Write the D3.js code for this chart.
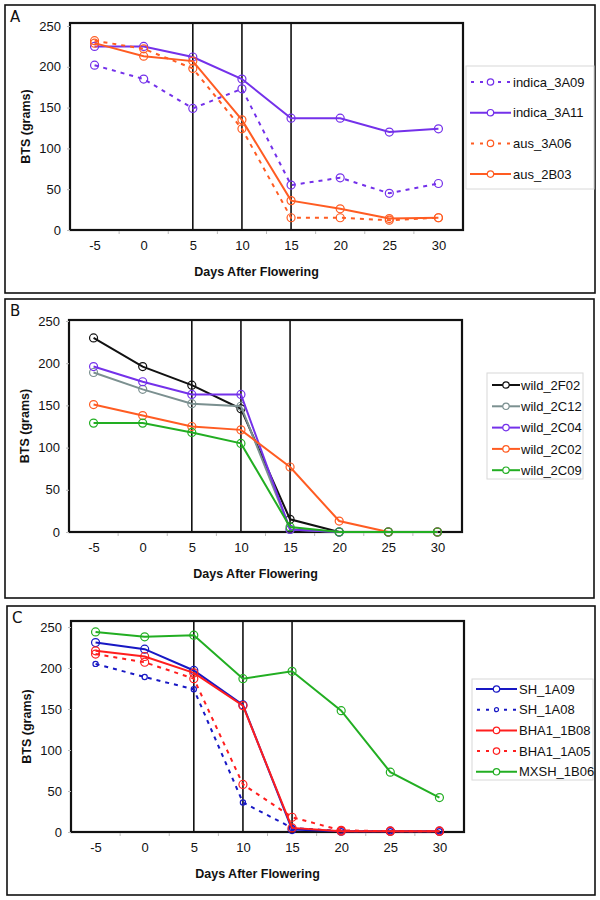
<!DOCTYPE html>
<html><head><meta charset="utf-8">
<script src="https://cdn.jsdelivr.net/npm/d3@7/dist/d3.min.js"></script>
<style>body{margin:0;background:#fff}svg{display:block}</style>
</head><body>
<svg id="chart" width="600" height="900"></svg>
<script>
const days = ["-5","0","5","10","15","20","25","30"];
const yTicks = [0,50,100,150,200,250];
const markerDays = ["5","10","15"];

// Panel A
const namesA = ["indica_3A09","indica_3A11","aus_3A06","aus_2B03"];
const indica_3A09 = [202,185,149,173,55,64,45,57];
const indica_3A11 = [225,225,212,185,137,137,120,124];
const aus_3A06 = [232,222,198,124,15,15,12,15];
const aus_2B03 = [229,213,207,135,36,26,14,15];

// Panel B
const namesB = ["wild_2F02","wild_2C12","wild_2C04","wild_2C02","wild_2C09"];
const wild_2F02 = [230,196,174,146,15,0,0,0];
const wild_2C12 = [189,169,152,149,3,0,0,0];
const wild_2C04 = [196,178,163,163,3,0,0,0];
const wild_2C02 = [151,138,125,121,77,13,0,0];
const wild_2C09 = [129,129,118,105,6,0,0,0];

// Panel C
const namesC = ["SH_1A09","SH_1A08","BHA1_1B08","BHA1_1A05","MXSH_1B06"];
const SH_1A09 = [231,223,197,155,3,1,1,1];
const SH_1A08 = [205,189,174,36,5,1,1,1];
const BHA1_1B08 = [221,214,194,154,5,1,1,1];
const BHA1_1A05 = [217,207,187,58,18,2,1,1];
const MXSH_1B06 = [244,238,240,187,196,148,73,42];

const svg = d3.select("#chart");

function panel(cfg){
  const g = svg.append("g");
  g.append("rect").attr("x",cfg.box[0]).attr("y",cfg.box[1])
    .attr("width",cfg.box[2]-cfg.box[0]).attr("height",cfg.box[3]-cfg.box[1])
    .attr("fill","none").attr("stroke","#111").attr("stroke-width",1.6);
  g.append("text").attr("x",cfg.box[0]+5).attr("y",cfg.box[1]+17)
    .attr("font-family","DejaVu Sans, sans-serif").attr("font-size",15)
    .attr("fill","#111").text(cfg.letter);

  const x = d3.scalePoint().domain(days).range([cfg.left,cfg.right]).padding(0.5);
  const xb = d3.scaleBand().domain(days).range([cfg.left,cfg.right]);
  const y = d3.scaleLinear().domain([0,250]).range([cfg.y0,cfg.y250]);

  g.append("rect").attr("x",cfg.left).attr("y",cfg.top)
    .attr("width",cfg.right-cfg.left).attr("height",cfg.y0-cfg.top)
    .attr("fill","#fff").attr("stroke","#111").attr("stroke-width",2.2);

  const ya = g.append("g").attr("transform",`translate(${cfg.left},0)`)
    .call(d3.axisLeft(y).tickValues(yTicks).tickSize(3).tickPadding(6));
  ya.select(".domain").remove();
  ya.selectAll("line").attr("stroke","#bbb");
  ya.selectAll("text").attr("font-family","Liberation Sans, Arial, sans-serif")
    .attr("font-size",13).attr("fill","#111");

  const xa = g.append("g").attr("transform",`translate(0,${cfg.y0})`)
    .call(d3.axisBottom(x).tickSize(0).tickPadding(11));
  xa.select(".domain").remove();
  xa.selectAll("text").attr("font-family","Liberation Sans, Arial, sans-serif")
    .attr("font-size",13).attr("fill","#111");
  g.append("g").selectAll("line").data(days.slice(1)).join("line")
    .attr("x1",d=>xb(d)).attr("x2",d=>xb(d))
    .attr("y1",cfg.y0+1).attr("y2",cfg.y0+4).attr("stroke","#bbb");

  g.append("text").attr("x",(cfg.left+cfg.right)/2 - 10).attr("y",cfg.y0+46)
    .attr("text-anchor","middle").attr("font-family","Liberation Sans, Arial, sans-serif")
    .attr("font-weight","bold").attr("font-size",12.5).attr("fill","#111")
    .text("Days After Flowering");
  g.append("text").attr("transform",`translate(${cfg.left-40},${(cfg.y0+cfg.top)/2}) rotate(-90)`)
    .attr("text-anchor","middle").attr("font-family","Liberation Sans, Arial, sans-serif")
    .attr("font-weight","bold").attr("font-size",12.5).attr("fill","#111")
    .text("BTS (grams)");

  g.append("g").selectAll("line").data(markerDays).join("line")
    .attr("x1",d=>x(d)).attr("x2",d=>x(d)).attr("y1",cfg.top).attr("y2",cfg.y0)
    .attr("stroke","#111").attr("stroke-width",1.6);

  const line = d3.line().x((v,i)=>x(days[i])).y(v=>y(v));
  cfg.series.forEach(s=>{
    const sg = g.append("g");
    sg.append("path").attr("d",line(s.values)).attr("fill","none")
      .attr("stroke",s.color).attr("stroke-width",2)
      .attr("stroke-dasharray",s.dash?"4,5":null);
    sg.selectAll("circle").data(s.values).join("circle")
      .attr("cx",(v,i)=>x(days[i])).attr("cy",v=>y(v)).attr("r",s.r||4)
      .attr("fill","none").attr("stroke",s.color).attr("stroke-width",1.2);
  });

  const L = cfg.legend;
  g.append("rect").attr("x",L.x0).attr("y",L.y0).attr("width",L.x1-L.x0).attr("height",L.y1-L.y0)
    .attr("fill","#fff").attr("stroke","#d8d8d8").attr("stroke-width",1);
  const li = g.append("g").selectAll("g").data(cfg.series).join("g")
    .attr("transform",(s,i)=>`translate(0,${L.first+i*L.step})`);
  li.append("line").attr("x1",L.lx0).attr("x2",L.lx1).attr("y1",0).attr("y2",0)
    .attr("stroke",s=>s.color).attr("stroke-width",2)
    .attr("stroke-dasharray",s=>s.dash?"3,6":null)
    .attr("stroke-dashoffset",s=>s.dash?-1:null);
  li.append("circle").attr("cx",(L.lx0+L.lx1)/2).attr("cy",0).attr("r",s=>s.r?2:3.2)
    .attr("fill","#fff").attr("stroke",s=>s.color).attr("stroke-width",1.2);
  li.append("text").attr("x",L.tx).attr("y",0).attr("dy","0.36em")
    .attr("font-family","Liberation Sans, Arial, sans-serif").attr("font-size",13)
    .attr("fill","#111").text(s=>s.name);
}

const purple="#7431EA", orange="#FF5C22", gray="#7B9090", green="#22AE22",
      blue="#1818C4", red="#FF1E1E", black="#111";

panel({letter:"A", box:[5,5,595,293], left:70, right:463, top:23, y0:230, y250:26,
  series:[
    {name:namesA[0],values:indica_3A09,color:purple,dash:true},
    {name:namesA[1],values:indica_3A11,color:purple},
    {name:namesA[2],values:aus_3A06,color:orange,dash:true},
    {name:namesA[3],values:aus_2B03,color:orange}],
  legend:{x0:466,x1:594,y0:66,y1:189,first:82,step:30.7,lx0:470,lx1:511,tx:513}});

panel({letter:"B", box:[5,299,594,598], left:69, right:462, top:320, y0:532, y250:321,
  series:[
    {name:namesB[0],values:wild_2F02,color:black},
    {name:namesB[1],values:wild_2C12,color:gray},
    {name:namesB[2],values:wild_2C04,color:purple},
    {name:namesB[3],values:wild_2C02,color:orange},
    {name:namesB[4],values:wild_2C09,color:green}],
  legend:{x0:487,x1:583,y0:373,y1:479,first:385,step:21.3,lx0:492,lx1:520,tx:521}});

panel({letter:"C", box:[7,606,595,895], left:71, right:464, top:621, y0:832, y250:627,
  series:[
    {name:namesC[0],values:SH_1A09,color:blue},
    {name:namesC[1],values:SH_1A08,color:blue,dash:true,r:2.6},
    {name:namesC[2],values:BHA1_1B08,color:red},
    {name:namesC[3],values:BHA1_1A05,color:red,dash:true},
    {name:namesC[4],values:MXSH_1B06,color:green}],
  legend:{x0:472,x1:593,y0:679,y1:780,first:689,step:20.7,lx0:476,lx1:517,tx:519}});
</script>
</body></html>
